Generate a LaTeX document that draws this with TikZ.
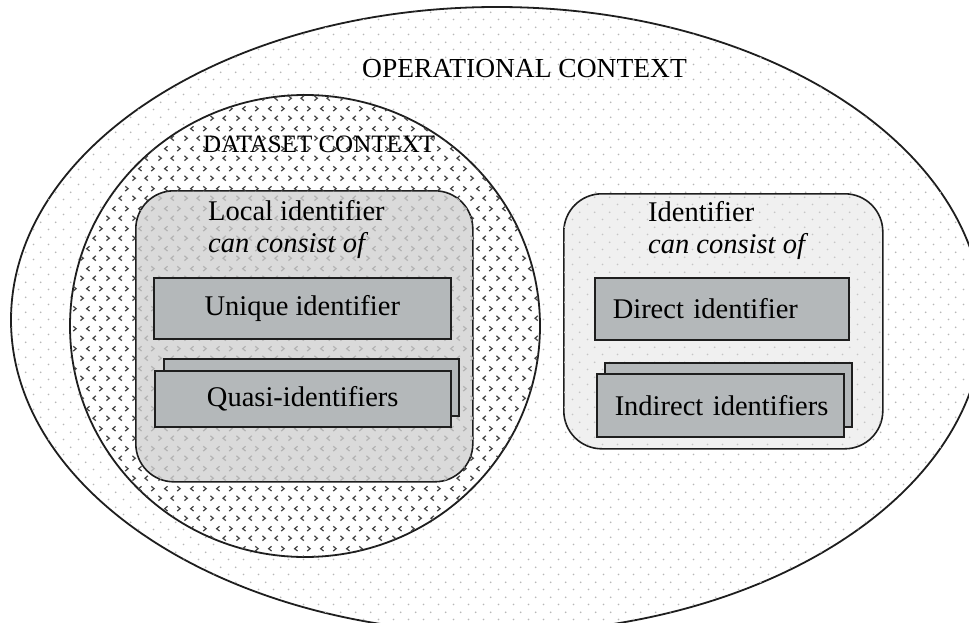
\documentclass[tikz,border=0pt]{standalone}
\usepackage{fontspec}
\setmainfont{Liberation Serif}
\usetikzlibrary{patterns}

% light staggered dot grid
\pgfdeclarepatternformonly{ctxdots}{\pgfpointorigin}{\pgfpoint{14.6pt}{14.6pt}}{\pgfpoint{14.6pt}{14.6pt}}{%
  \pgfpathcircle{\pgfpoint{3.65pt}{3.65pt}}{0.95pt}%
  \pgfpathcircle{\pgfpoint{10.95pt}{10.95pt}}{0.95pt}%
  \pgfusepath{fill}%
}
% small alternating chevrons
\pgfdeclarepatternformonly{ctxchevrons}{\pgfpointorigin}{\pgfpoint{26pt}{20pt}}{\pgfpoint{26pt}{20pt}}{%
  \pgfsetlinewidth{1.3pt}%
  \pgfpathmoveto{\pgfpoint{2.5pt}{7.5pt}}\pgfpathlineto{\pgfpoint{5.5pt}{5pt}}\pgfpathlineto{\pgfpoint{2.5pt}{2.5pt}}%
  \pgfpathmoveto{\pgfpoint{18.5pt}{7.5pt}}\pgfpathlineto{\pgfpoint{15.5pt}{5pt}}\pgfpathlineto{\pgfpoint{18.5pt}{2.5pt}}%
  \pgfpathmoveto{\pgfpoint{12pt}{17.5pt}}\pgfpathlineto{\pgfpoint{9pt}{15pt}}\pgfpathlineto{\pgfpoint{12pt}{12.5pt}}%
  \pgfpathmoveto{\pgfpoint{22pt}{17.5pt}}\pgfpathlineto{\pgfpoint{25pt}{15pt}}\pgfpathlineto{\pgfpoint{22pt}{12.5pt}}%
  \pgfusepath{stroke}%
}

\definecolor{dotgray}{HTML}{B8B8B8}
\definecolor{chevgray}{HTML}{464646}
\definecolor{localfill}{HTML}{DADADA}
\definecolor{localchev}{HTML}{B4B4B4}
\definecolor{rightfill}{HTML}{F0F0F0}
\definecolor{boxgray}{HTML}{B4B8BA}
\definecolor{edge}{HTML}{1E1E1E}

\tikzset{
  ctxline/.style={draw=edge, line width=1.8pt},
  ctxlabel/.style={font=\fontsize{25}{30}\selectfont, inner sep=0pt, anchor=base west},
  grouptitle/.style={font=\fontsize{28.5}{34}\selectfont, inner sep=0pt, anchor=base west},
  groupbox/.style={draw=edge, line width=1.6pt, rounded corners=38pt, anchor=north west, inner sep=0pt},
  idbox/.style={draw=edge, line width=1.5pt, fill=boxgray, anchor=north west, inner sep=0pt,
    font=\fontsize{28.5}{34}\selectfont},
  leftid/.style={idbox, align=left, inner xsep=18pt},
}

\begin{document}
\begin{tikzpicture}[x=1pt, y=-1pt]
  \useasboundingbox (0,0) rectangle (969,623);
  \fill[white] (0,0) rectangle (969,623);

  % operational context
  \path[ctxline, fill=white, postaction={pattern=ctxdots, pattern color=dotgray}]
    (497,320) ellipse [x radius=486pt, y radius=313pt];
  % dataset context
  \path[ctxline, fill=white, postaction={pattern=ctxchevrons, pattern color=chevgray}]
    (305,326) ellipse [x radius=235pt, y radius=231pt];

  % group boxes
  \node[groupbox, fill=localfill, postaction={pattern=ctxchevrons, pattern color=localchev},
        minimum width=337pt, minimum height=291pt] (local) at (135,190) {};
  \node[groupbox, fill=rightfill, postaction={pattern=ctxdots, pattern color=dotgray!80},
        minimum width=319pt, minimum height=255pt] (ident) at (563,193) {};

  % context labels
  \node[ctxlabel, font=\fontsize{27.5}{32}\selectfont] (opctx) at (362,78) {OPERATIONAL CONTEXT};
  \node[ctxlabel] (dsctx) at (203,153) {DATASET CONTEXT};

  % local identifier group
  \node[grouptitle] (localtitle) at (208,220) {Local identifier};
  \node[grouptitle] (localsub) at (208,252) {\itshape can consist of};
  \node[idbox, minimum width=297pt, minimum height=61pt] (unique) at (153,277) {Unique identifier};
  \node[idbox, minimum width=295pt, minimum height=57pt] (quasiback) at (163,358) {};
  \node[idbox, minimum width=296pt, minimum height=56pt] (quasi) at (154,370) {Quasi-identifiers};

  % identifier group
  \node[grouptitle] (identtitle) at (648,221) {Identifier};
  \node[grouptitle] (identsub) at (648,253) {\itshape can consist of};
  \node[leftid, text width=218pt, minimum height=62pt] (direct) at (594,277) {\mbox{Direct identifier}};
  \node[idbox, minimum width=247pt, minimum height=64pt] (indirectback) at (604,362) {};
  \node[leftid, text width=211pt, minimum height=63pt] (indirect) at (596,373) {\mbox{Indirect identifiers}};
\end{tikzpicture}
\end{document}
